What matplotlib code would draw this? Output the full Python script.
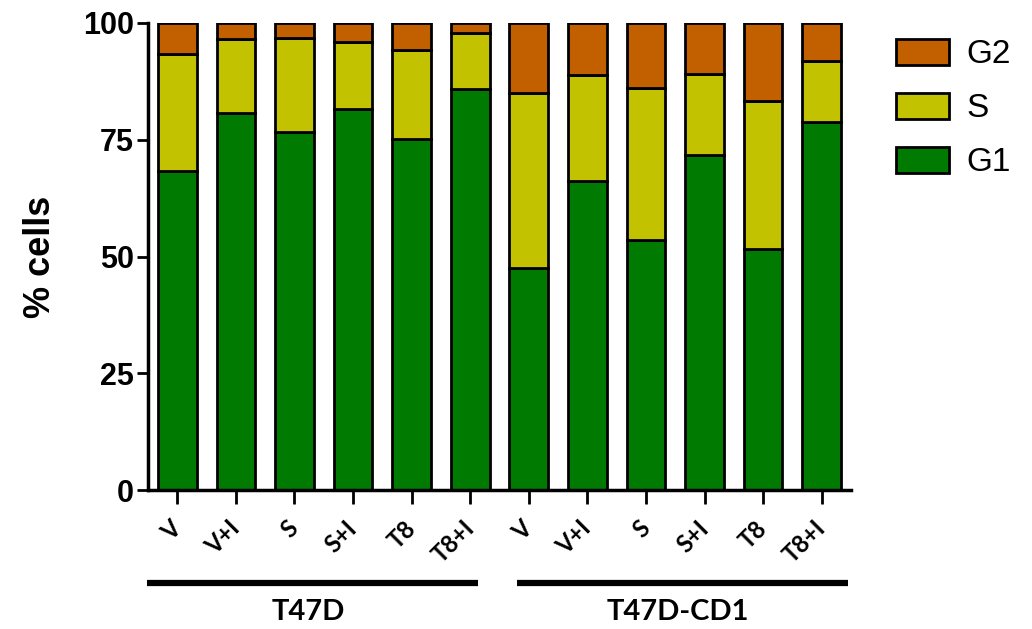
import matplotlib
matplotlib.use("Agg")
import matplotlib.pyplot as plt
import numpy as np
from matplotlib.patches import Patch

treatments = ["V", "V+I", "S", "S+I", "T8", "T8+I",
              "V", "V+I", "S", "S+I", "T8", "T8+I"]
groups = ["T47D", "T47D-CD1"]
g1 = [68.3, 80.7, 76.7, 81.6, 75.2, 85.9, 47.5, 66.2, 53.6, 71.7, 51.6, 78.8]
s_phase = [25.1, 15.9, 20.1, 14.3, 19.0, 12.0, 37.6, 22.7, 32.5, 17.4, 31.7, 13.1]
g2 = [6.6, 3.4, 3.2, 4.1, 5.8, 2.1, 14.9, 11.1, 13.9, 10.9, 16.7, 8.1]

c_g1 = "#007A00"
c_s = "#C3C200"
c_g2 = "#C26000"

plt.rcParams["font.family"] = ["Liberation Sans", "DejaVu Sans"]

fig = plt.figure(figsize=(10.32, 6.29), dpi=100)
ax = fig.add_axes([148/1032, 1 - 490/629, (851-148)/1032, 467/629])

x = np.arange(len(treatments))
w = 0.66
lw = 2.0
ax.bar(x, g1, w, color=c_g1, edgecolor="black", linewidth=lw, zorder=2)
ax.bar(x, s_phase, w, bottom=g1, color=c_s, edgecolor="black", linewidth=lw, zorder=2)
bot2 = np.array(g1) + np.array(s_phase)
ax.bar(x, g2, w, bottom=bot2, color=c_g2, edgecolor="black", linewidth=lw, zorder=2)

ax.set_xlim(-0.5, 11.5)
ax.set_ylim(0, 100)
ax.set_yticks([0, 25, 50, 75, 100])
ax.set_yticklabels(["0", "25", "50", "75", "100"], fontsize=22, fontweight="bold")
ax.set_xticks(x)
ax.set_xticklabels(treatments, rotation=45, ha="right", va="center",
                   rotation_mode="anchor", fontsize=17, fontweight="bold",
                   family=["Lato", "DejaVu Sans"])
ax.tick_params(axis="x", length=10, width=2, pad=15)
ax.tick_params(axis="y", length=8, width=2, pad=2)
for sp in ["top", "right"]:
    ax.spines[sp].set_visible(False)
for sp in ["left", "bottom"]:
    ax.spines[sp].set_linewidth(2.5)

ax.set_ylabel("% cells", fontsize=26, fontweight="bold", labelpad=18)

trans = ax.get_xaxis_transform()
spans = [(-0.51, 5.14), (5.80, 11.45)]
for (a, b), name in zip(spans, groups):
    ax.plot([a, b], [-0.199, -0.199], color="black", lw=4.5, transform=trans,
            clip_on=False, solid_capstyle="butt")
    ax.text((a + b) / 2 - 0.08, -0.262, name, transform=trans, ha="center", va="center",
            fontsize=21, fontweight="bold", family=["Lato", "DejaVu Sans"])

handles = [Patch(facecolor=c_g2, edgecolor="black", linewidth=2, label="G2"),
           Patch(facecolor=c_s, edgecolor="black", linewidth=2, label="S"),
           Patch(facecolor=c_g1, edgecolor="black", linewidth=2, label="G1")]
fig.legend(handles=handles, loc="upper left", bbox_to_anchor=(896/1032, 1 - 39/629),
           frameon=False, fontsize=24, handlelength=1.6, handleheight=0.8,
           labelspacing=0.68, handletextpad=0.5, borderpad=0, borderaxespad=0)

fig.savefig("out.png", dpi=100)
